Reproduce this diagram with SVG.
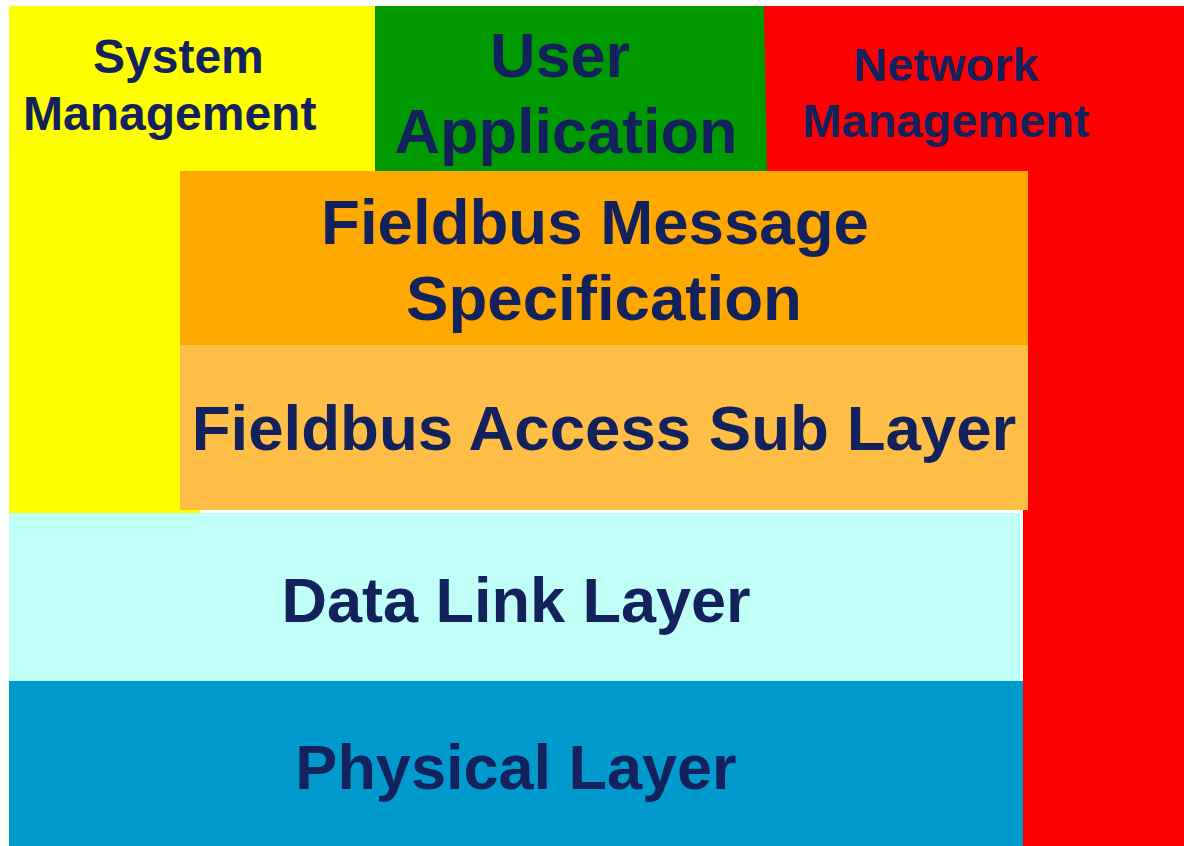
<svg xmlns="http://www.w3.org/2000/svg" width="1184" height="846" viewBox="0 0 1184 846">
  <style>
    .lbl { font-family: "Liberation Sans", Arial, sans-serif; font-weight: bold; fill: #13225C; }
    .s47 { font-size: 47px; }
    .s48 { font-size: 48px; }
    .s63 { font-size: 63px; }
    .s64 { font-size: 63.6px; }
    .mid { text-anchor: middle; }
  </style>
  <rect x="0" y="0" width="1184" height="846" fill="#FFFFFF"/>

  <!-- Network Management: right-hand column running the full height -->
  <g id="network-management">
    <rect x="764" y="6" width="420" height="840" fill="#FF0000"/>
    <text class="lbl s47 mid" x="946" y="81">Network</text>
    <text class="lbl s47 mid" x="946" y="137">Management</text>
  </g>

  <!-- thin white seams around the lower stack -->
  <rect x="200" y="510" width="823" height="3" fill="#FFFFFF"/>
  <rect x="1020" y="510" width="3" height="171" fill="#FFFFFF"/>

  <!-- System Management: left-hand column -->
  <g id="system-management">
    <rect x="9" y="6" width="366" height="504" fill="#FFFF00"/>
    <rect x="9" y="510" width="191" height="3" fill="#FFFF00"/>
    <text class="lbl s48" x="93" y="73">System</text>
    <text class="lbl s48" x="23" y="130">Management</text>
  </g>

  <!-- User Application -->
  <g id="user-application">
    <polygon points="375,6 764,6 767,171 375,171" fill="#009900"/>
    <text class="lbl s63 mid" x="560" y="77">User</text>
    <text class="lbl s63 mid" x="566" y="153">Application</text>
  </g>

  <!-- Fieldbus Message Specification -->
  <g id="fms">
    <rect x="180" y="171" width="848" height="174" fill="#FFA800"/>
    <text class="lbl s64 mid" x="595" y="244">Fieldbus Message</text>
    <text class="lbl s64 mid" x="604" y="320">Specification</text>
  </g>

  <!-- Fieldbus Access Sub Layer -->
  <g id="fas">
    <rect x="180" y="345" width="848" height="165" fill="#FFBF47"/>
    <text class="lbl s64 mid" x="604" y="450">Fieldbus Access Sub Layer</text>
  </g>

  <!-- Data Link Layer -->
  <g id="data-link">
    <rect x="9" y="513" width="1011" height="168" fill="#BFFFF7"/>
    <text class="lbl s63 mid" x="516" y="622">Data Link Layer</text>
  </g>

  <!-- Physical Layer -->
  <g id="physical">
    <rect x="9" y="681" width="1014" height="165" fill="#009BCC"/>
    <text class="lbl s63 mid" x="516" y="789">Physical Layer</text>
  </g>

  <g id="connectors"/>
</svg>
